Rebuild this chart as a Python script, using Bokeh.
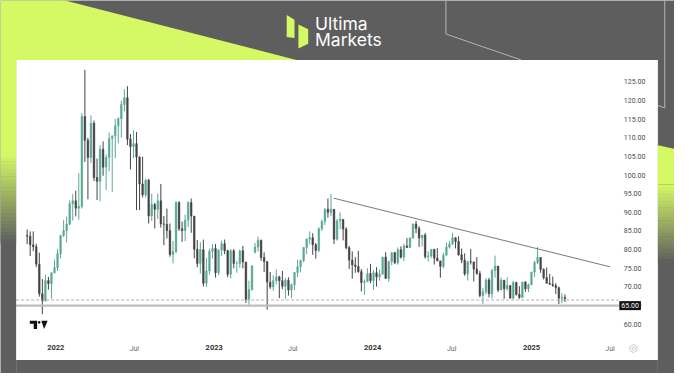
import numpy as np
import pandas as pd
from bokeh.plotting import figure
from bokeh.models import (Range1d, FixedTicker, NumeralTickFormatter, Label, LinearAxis,
                          DatetimeAxis, BoxAnnotation, PolyAnnotation, Arrow, ColumnDataSource)
from bokeh.embed import file_html
from bokeh.resources import INLINE

# ---------------- data (weekly candles) ----------------
first_week = "2021-10-25"
opens = [83.8, 83.6, 81.3, 80.8, 76.1, 68.2, 66.3, 71.7, 70.9, 73.8,
         75.2, 78.9, 83.8, 85.1, 86.8, 92.3, 93.1, 91.1, 91.6, 115.7,
         109.3, 104.7, 113.9, 99.3, 98.3, 106.9, 102.1, 104.7, 109.8, 110.5,
         113.2, 115.1, 118.9, 120.7, 109.6, 107.6, 108.4, 104.8, 97.6, 94.7,
         98.6, 89.0, 92.1, 90.8, 93.1, 86.9, 86.8, 85.1, 78.7, 79.5,
         92.6, 85.6, 85.1, 87.9, 92.6, 89.0, 80.1, 76.3, 80.0, 71.0,
         74.3, 79.6, 80.3, 73.8, 79.9, 81.6, 79.7, 73.4, 79.7, 76.3,
         76.3, 79.7, 76.7, 66.7, 69.3, 79.3, 80.7, 82.5, 77.9, 76.8,
         71.3, 70.0, 71.7, 72.7, 71.7, 70.2, 71.8, 69.2, 70.6, 73.9,
         75.4, 77.1, 80.6, 82.8, 83.2, 81.3, 79.8, 85.6, 87.5, 90.8,
         90.0, 90.8, 82.8, 87.7, 88.1, 85.5, 80.5, 77.2, 75.9, 75.5,
         74.1, 71.2, 71.4, 73.6, 71.7, 73.8, 72.7, 73.4, 78.0, 72.3,
         76.8, 79.2, 76.5, 80.0, 78.0, 81.0, 80.6, 83.2, 86.9, 85.7,
         83.1, 83.9, 78.1, 78.3, 80.1, 77.7, 77.0, 75.5, 78.5, 80.7,
         81.5, 83.2, 82.2, 78.6, 77.2, 73.5, 76.8, 76.7, 74.8, 73.6,
         67.7, 68.7, 71.9, 68.2, 74.4, 75.6, 69.2, 71.8, 69.5, 70.4,
         67.0, 71.2, 68.0, 67.2, 71.3, 69.5, 70.6, 74.0, 76.6, 77.9,
         74.7, 72.5, 71.0, 70.7, 70.4, 69.8, 67.0, 67.2]
highs = [85.4, 84.9, 84.9, 81.6, 79.2, 72.1, 73.3, 72.7, 73.9, 77.3,
         80.2, 84.0, 87.9, 88.8, 93.2, 94.9, 95.8, 100.5, 116.6, 128.2,
         110.0, 116.0, 114.6, 104.4, 108.0, 109.0, 105.5, 111.4, 110.5, 115.0,
         115.5, 119.9, 123.0, 123.8, 111.0, 112.0, 111.5, 105.0, 104.9, 99.0,
         99.0, 95.0, 92.5, 95.0, 97.6, 89.0, 91.0, 87.0, 82.3, 93.0,
         93.0, 87.5, 89.4, 93.0, 93.7, 89.0, 82.6, 82.0, 82.7, 77.8,
         80.3, 81.5, 81.5, 80.0, 82.4, 82.7, 80.0, 80.1, 80.2, 77.0,
         80.0, 81.0, 76.7, 71.7, 75.7, 81.8, 83.5, 82.7, 79.3, 76.9,
         74.0, 73.1, 74.7, 73.0, 74.3, 72.4, 72.6, 70.9, 74.0, 77.3,
         77.3, 80.7, 83.0, 84.9, 84.4, 81.8, 86.0, 88.1, 91.1, 93.7,
         94.9, 90.9, 88.2, 90.0, 88.2, 86.0, 81.0, 79.5, 78.0, 79.7,
         74.8, 72.0, 75.0, 76.2, 74.5, 75.3, 74.7, 78.1, 79.3, 77.0,
         79.4, 79.4, 80.6, 80.9, 81.6, 83.1, 83.2, 87.0, 87.7, 86.3,
         83.9, 84.5, 79.6, 80.1, 80.2, 80.4, 77.0, 79.2, 81.9, 82.4,
         84.5, 83.3, 83.6, 80.3, 79.0, 77.0, 80.2, 76.8, 78.0, 74.3,
         69.8, 72.3, 72.4, 74.9, 78.4, 75.6, 72.5, 71.9, 72.6, 70.4,
         71.6, 71.4, 70.2, 71.4, 71.6, 70.9, 74.1, 77.0, 80.7, 78.0,
         75.0, 75.2, 73.5, 72.8, 71.0, 70.1, 68.3, 68.0]
lows = [81.5, 78.3, 79.6, 75.3, 67.4, 62.7, 66.1, 69.3, 66.9, 73.6,
        74.3, 77.6, 83.4, 81.9, 86.6, 87.8, 88.9, 88.0, 91.0, 103.5,
        93.5, 103.2, 98.4, 93.3, 92.9, 99.8, 96.0, 101.0, 95.5, 104.5,
        108.5, 110.0, 117.0, 108.0, 101.5, 104.5, 90.6, 90.6, 94.0, 94.0,
        87.0, 87.7, 85.7, 88.2, 85.9, 81.2, 83.0, 78.1, 76.3, 79.0,
        85.0, 82.1, 82.3, 86.0, 84.5, 77.7, 75.3, 73.6, 70.1, 70.0,
        73.3, 77.6, 72.5, 73.2, 78.3, 78.8, 72.6, 72.3, 75.0, 73.8,
        75.1, 75.0, 65.7, 64.8, 69.0, 79.0, 79.5, 77.0, 74.0, 63.9,
        69.5, 69.0, 70.7, 67.0, 69.4, 66.8, 67.7, 67.1, 69.2, 72.7,
        73.9, 76.6, 78.8, 81.5, 78.6, 77.6, 79.3, 85.0, 86.6, 88.6,
        89.0, 81.5, 82.4, 85.5, 82.5, 80.1, 74.8, 72.2, 73.8, 73.8,
        68.8, 67.9, 71.3, 71.0, 69.3, 70.1, 71.7, 73.4, 72.2, 71.4,
        75.8, 76.1, 76.0, 77.6, 76.9, 80.4, 80.5, 82.9, 84.4, 80.7,
        80.9, 77.6, 76.8, 77.7, 76.0, 76.9, 72.5, 75.0, 78.4, 80.3,
        81.3, 80.3, 78.4, 76.4, 73.0, 71.7, 76.0, 71.5, 73.3, 67.2,
        65.4, 68.0, 67.2, 66.9, 72.5, 68.6, 69.1, 66.8, 69.0, 66.9,
        66.6, 67.7, 66.8, 67.0, 68.7, 68.6, 70.5, 72.7, 76.1, 73.8,
        72.0, 70.9, 70.6, 70.0, 68.1, 65.4, 65.6, 66.0]
closes = [83.6, 81.3, 80.8, 76.1, 68.2, 66.3, 71.7, 70.9, 73.8, 75.2,
          78.9, 83.8, 85.1, 86.8, 92.3, 93.1, 91.1, 91.6, 115.7, 109.3,
          104.7, 113.9, 99.3, 98.3, 106.9, 102.1, 104.7, 109.8, 110.5, 113.2,
          115.1, 118.9, 120.7, 109.6, 107.6, 108.4, 104.8, 97.6, 94.7, 98.6,
          89.0, 92.1, 90.8, 93.1, 86.9, 86.8, 85.1, 78.7, 79.5, 92.6,
          85.6, 85.1, 87.9, 92.6, 89.0, 80.1, 76.3, 80.0, 71.0, 74.3,
          79.6, 80.3, 73.8, 79.9, 81.6, 79.7, 73.4, 79.7, 76.3, 76.3,
          79.7, 76.7, 66.7, 69.3, 75.7, 80.7, 82.5, 77.9, 76.8, 71.3,
          70.0, 71.7, 72.7, 71.7, 70.2, 71.8, 69.2, 70.6, 73.9, 75.4,
          77.1, 80.6, 82.8, 83.2, 81.3, 79.8, 85.6, 87.5, 90.8, 90.0,
          90.8, 82.8, 87.7, 88.1, 85.5, 80.5, 77.2, 75.9, 75.5, 74.1,
          71.2, 71.4, 73.6, 71.7, 73.8, 72.7, 73.4, 78.0, 72.3, 76.8,
          79.2, 76.5, 80.0, 78.0, 81.0, 80.6, 83.2, 86.9, 85.7, 83.1,
          83.9, 78.1, 78.3, 80.1, 77.7, 77.0, 75.5, 78.5, 80.7, 81.5,
          83.2, 82.2, 78.6, 77.2, 73.5, 76.8, 76.7, 74.8, 73.6, 67.7,
          68.7, 71.9, 68.2, 74.4, 75.6, 69.2, 71.8, 69.5, 70.4, 67.0,
          71.2, 68.0, 67.2, 71.3, 69.5, 70.6, 74.0, 76.6, 77.9, 74.7,
          72.5, 71.0, 70.7, 70.4, 69.8, 67.0, 67.2, 66.9]

trend_dates = ["2023-10-03", "2025-07-01"]
trend_prices = [93.8, 75.4]
support_level = 65.0
dashed_level = 66.5
price_ticks = [60, 65, 70, 75, 80, 85, 90, 95, 100, 105, 110, 115, 120, 125]
year_ticks = ["2022-01-01", "2023-01-01", "2024-01-01", "2025-01-01"]
year_labels = ["2022", "2023", "2024", "2025"]
mid_ticks = ["2022-07-01", "2023-07-01", "2024-07-01", "2025-07-01"]
mid_labels = ["Jul", "Jul", "Jul", "Jul"]

# ---------------- styling ----------------
GREY = "#5e5e5e"
LIME = "#d4f964"
UP = "#5aa897"
DOWN = "#444444"


def ms(d):
    return pd.Timestamp(d).value / 1e6


origin = pd.Timestamp("2022-01-01")
day = 86400000.0
# the TradingView pane in reference pixels and its value extents
FL, FR, FT, FB = 16.0, 633.0, 62.0, 352.0
pane_x0 = ms(origin) - 91.4 * day
pane_x1 = ms(origin) + 1297.2 * day
pane_y0, pane_y1 = 56.32, 130.83


def X(px):
    return pane_x0 + (px - FL) / (FR - FL) * (pane_x1 - pane_x0)


def Y(py):
    return pane_y1 - (py - FT) / (FB - FT) * (pane_y1 - pane_y0)


# the canvas shows the whole 690x389 composition
p = figure(width=674, height=373, x_axis_type=None, y_axis_type=None,
           x_range=Range1d(X(0), X(690)), y_range=Range1d(Y(389), Y(0)),
           output_backend="svg", toolbar_location=None,
           min_border=0, min_border_left=0, min_border_right=0, min_border_top=0,
           min_border_bottom=0, background_fill_color="white", border_fill_color="white",
           outline_line_color=None)
p.grid.visible = False

# candles
dates = pd.date_range(first_week, periods=len(closes), freq="7D") + pd.Timedelta(days=2)
colors = [UP if c >= o else DOWN for o, c in zip(opens, closes)]
src = ColumnDataSource(dict(date=dates, open=opens, high=highs, low=lows, close=closes,
                            top=[max(o, c) for o, c in zip(opens, closes)],
                            bottom=[min(o, c) for o, c in zip(opens, closes)],
                            color=colors))
p.segment(x0="date", y0="high", x1="date", y1="low", color="color", line_width=1, source=src)
p.vbar(x="date", width=3.8 * day, top="top", bottom="bottom", fill_color="color",
       line_color="color", line_width=0.5, source=src)

# trend line
p.segment(x0=[pd.Timestamp(trend_dates[0])], y0=[trend_prices[0]],
          x1=[pd.Timestamp(trend_dates[1])], y1=[trend_prices[1]],
          line_color="#7a7a7a", line_width=1)

# horizontal levels across the pane
p.segment(x0=[X(FL)], x1=[X(FR)], y0=[support_level], y1=[support_level],
          line_color="#bdbdbd", line_width=2.2)
p.segment(x0=[X(FL)], x1=[X(FR)], y0=[dashed_level], y1=[dashed_level],
          line_color="#a0a0a0", line_width=0.8, line_dash="3 2")

# axes (fixed at the pane edges)
ya = LinearAxis(fixed_location=X(FR), ticker=FixedTicker(ticks=price_ticks),
                formatter=NumeralTickFormatter(format="0.00"),
                major_label_text_font="Roboto", major_label_text_font_size="7px",
                major_label_text_color="#4a4a4a", axis_line_color=None,
                major_tick_line_color=None, minor_tick_line_color=None,
                major_tick_out=0, major_tick_in=0, major_label_standoff=5)
p.add_layout(ya, "right")


def date_axis(ticks, labels, style, color, size):
    t_ms = [ms(d) for d in ticks]
    ax = DatetimeAxis(fixed_location=Y(FB), ticker=FixedTicker(ticks=t_ms),
                      major_label_overrides={t: lab for t, lab in zip(t_ms, labels)},
                      major_label_text_font="Roboto", major_label_text_font_size=size,
                      major_label_text_font_style=style, major_label_text_color=color,
                      axis_line_color=None, major_tick_line_color=None,
                      minor_tick_line_color=None, major_tick_out=0, major_tick_in=0,
                      major_label_standoff=7)
    p.add_layout(ax, "below")


date_axis(year_ticks, year_labels, "bold", "#333333", "7.5px")
date_axis(mid_ticks, mid_labels, "normal", "#666666", "7px")


def box(l, r, t, b, color):
    p.add_layout(BoxAnnotation(left=X(l), right=X(r), top=Y(t), bottom=Y(b), fill_color=color,
                               fill_alpha=1, line_color=None, level="annotation"))


def poly(xs, ys, fill, line=None, lw=1):
    p.add_layout(PolyAnnotation(xs=[X(v) for v in xs], ys=[Y(v) for v in ys],
                                fill_color=fill, fill_alpha=1 if fill else 0,
                                line_color=line, line_width=lw, level="annotation"))


def mix(c1, c2, t):
    a = [int(c1[i:i + 2], 16) for i in (1, 3, 5)]
    b = [int(c2[i:i + 2], 16) for i in (1, 3, 5)]
    return "#%02x%02x%02x" % tuple(int(round(a[k] + (b[k] - a[k]) * t)) for k in range(3))


# grey surroundings of the white panel
box(-5, 700, -5, 62, GREY)
box(-5, 16, 62, 400, GREY)
box(673, 700, 62, 400, GREY)
box(16, 673, 375, 400, GREY)

# lime shapes
poly([-5, 47, 303, -5], [-5, -5, 62, 62], LIME)
box(-5, 16, 62, 160, LIME)
n = 24
for i in range(n):
    y0 = 160 + i * (253 - 160) / n
    y1 = 160 + (i + 1) * (253 - 160) / n + 0.5
    box(-5, 16, y0, y1, mix(LIME, GREY, (i + 0.5) / n))
poly([673, 700, 700, 673], [151, 157, 192, 192], LIME)
for i in range(n):
    y0 = 192 + i * (273 - 192) / n
    y1 = 192 + (i + 1) * (273 - 192) / n + 0.5
    box(673, 700, y0, y1, mix(LIME, GREY, (i + 0.5) / n))

# thin outline lines
for (a0, b0, a1, b1) in [(456, -5, 456, 35), (456, 35, 533, 62), (680, -5, 680, 112), (680, 112, 673, 109.5)]:
    p.add_layout(Arrow(end=None, x_start=X(a0), y_start=Y(b0), x_end=X(a1), y_end=Y(b1),
                       line_color="#b4b4b4", line_width=1, level="annotation"))

# logo
poly([293, 301, 301, 293], [15, 20, 39, 38], LIME)
poly([305, 315, 315, 305], [25, 30, 45, 50], LIME)
p.add_layout(Label(x=X(322), y=Y(24), text="Ultima", text_color="white", text_font="Inter",
                   text_font_size="17.5px", text_baseline="middle", text_align="left"))
p.add_layout(Label(x=X(322), y=Y(40.5), text="Markets", text_color="white", text_font="Inter",
                   text_font_size="17.5px", text_baseline="middle", text_align="left"))

# TradingView mark
poly([30, 37.5, 37.5, 34, 34, 30], [334, 334, 342.7, 342.7, 337, 337], "#111111")
ang = np.linspace(0, 2 * np.pi, 13)
poly(39.6 + 1.4 * np.cos(ang), 335.6 + 1.4 * np.sin(ang), "#111111")
poly([41.8, 48.3, 44.6], [334, 334, 342.7], "#111111")

# settings icon
hexa = np.linspace(0, 2 * np.pi, 7)[:-1] + np.pi / 6
poly(648 + 4.2 * np.cos(hexa), 363 + 4.2 * np.sin(hexa), None, "#555555", 1)
poly(648 + 1.6 * np.cos(ang), 363 + 1.6 * np.sin(ang), None, "#555555", 1)

# price tag for the support level
p.add_layout(Label(x=X(633.5), y=support_level, text="65.00", text_color="white",
                   text_font="Roboto", text_font_size="7px", text_baseline="middle",
                   text_align="left", background_fill_color="#111111", padding=2))

open("out.html", "w").write(file_html(p, INLINE))
